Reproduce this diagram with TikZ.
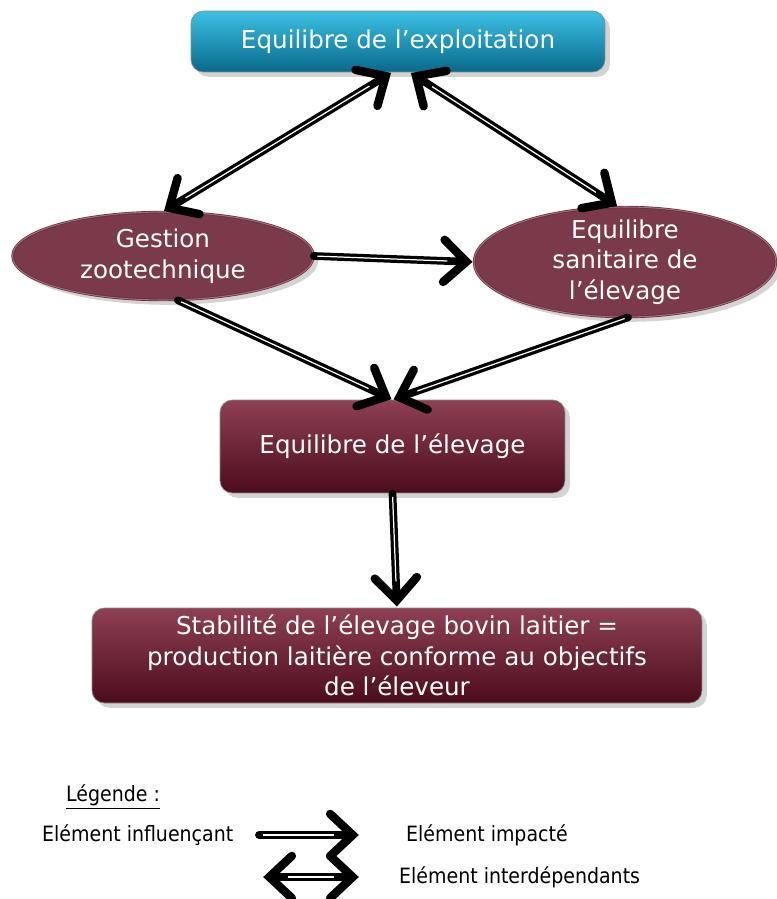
\documentclass[tikz,border=0pt]{standalone}
\usepackage{fontspec}
\setmainfont{DejaVu Sans}
\newfontfamily\legendfont{DejaVu Sans Condensed}
\usetikzlibrary{arrows.meta,shapes.geometric,shadows}
\definecolor{bleuhaut}{RGB}{60,192,228}
\definecolor{bleubas}{RGB}{8,106,138}
\definecolor{rougehaut}{RGB}{142,64,82}
\definecolor{rougebas}{RGB}{76,12,28}
\definecolor{ovalefond}{RGB}{123,58,74}
\definecolor{ovalebord}{RGB}{168,108,122}
\pgfdeclarearrow{
  name = Chevron,
  parameters = {\the\pgfarrowlength,\the\pgfarrowwidth,\the\pgfarrowlinewidth},
  setup code = {
    \pgfarrowssettipend{0pt}
    \pgfarrowssetlineend{-0.3\pgfarrowlength}
    \pgfarrowssavethe\pgfarrowlength
    \pgfarrowssavethe\pgfarrowwidth
    \pgfarrowssavethe\pgfarrowlinewidth
  },
  drawing code = {
    \pgfsetlinewidth{\pgfarrowlinewidth}
    \pgfsetroundcap
    \pgfsetmiterjoin
    \pgfpathmoveto{\pgfqpoint{-\pgfarrowlength}{.5\pgfarrowwidth}}
    \pgfpathlineto{\pgfqpoint{-0.87\pgfarrowlinewidth}{0pt}}
    \pgfpathlineto{\pgfqpoint{-\pgfarrowlength}{-.5\pgfarrowwidth}}
    \pgfusepathqstroke
  },
  defaults = {length=17pt, width=24pt, line width=4.8pt}
}
\tikzset{
  boite/.style={rounded corners=7pt, draw=black!45, line width=0.4pt, text=white,
    align=center, font=\fontsize{14}{17.5}\selectfont, drop shadow={opacity=0.35}},
  bleu/.style={boite, top color=bleuhaut, bottom color=bleubas},
  bordeaux/.style={boite, top color=rougehaut, bottom color=rougebas},
  ovale/.style={ellipse, inner sep=0pt, fill=ovalefond, draw=ovalefond!80!black,
    double=ovalebord, double distance=0.6pt, drop shadow={opacity=0.35}},
  texte/.style={text=white, align=center, font=\fontsize{14}{17.5}\selectfont},
  fleche/.style={line width=4.4pt, line cap=round, -Chevron,
    postaction={draw=white, line width=0.7pt, line cap=butt, -, shorten >=15pt, shorten <=2pt}},
  fleches/.style={line width=4.4pt, line cap=round, Chevron-Chevron,
    postaction={draw=white, line width=0.7pt, line cap=butt, -, shorten >=15pt, shorten <=15pt}},
  legende/.style={anchor=west, font=\legendfont\fontsize{12}{15}\selectfont}
}
\begin{document}
\begin{tikzpicture}[x=0.02cm, y=-0.02cm]
  \useasboundingbox (0,0) rectangle (777,899);

  \node[bleu, minimum width=8.28cm, minimum height=1.22cm] (expl) at (398,41.5) {Equilibre de l’exploitation};
  \node[ovale, minimum width=6.02cm, minimum height=1.76cm,
    label={[texte]center:Gestion\\zootechnique}] (zoo) at (163,256) {};
  \node[ovale, minimum width=6.04cm, minimum height=2.2cm,
    label={[texte]center:Equilibre\\sanitaire de\\l’élevage}] (sani) at (625,262) {};
  \node[bordeaux, minimum width=6.9cm, minimum height=1.86cm] (elev) at (392.5,446.5) {Equilibre de l’élevage};
  \node[bordeaux, minimum width=12.2cm, minimum height=1.9cm] (stab) at (397,655.5)
    {Stabilité de l’élevage bovin laitier =\\production laitière conforme au objectifs\\de l’éleveur};

  \draw[fleches] ([xshift=-0.12cm]expl.south) -- (zoo.north);
  \draw[fleches] ([xshift=0.24cm]expl.south) -- ([xshift=-0.14cm]sani.north);
  \draw[fleche] (zoo.east) -- (sani.west);
  \draw[fleche] ([xshift=0.3cm]zoo.south) -- (elev.north);
  \draw[fleche] ([xshift=0.06cm]sani.south) -- (elev.north);
  \draw[fleche] (elev.south) -- (stab.north);

  \node[legende] (leg) at (60,797) {\underline{Légende :}};
  \node[legende] (infl) at (36,835) {Elément influençant};
  \node[legende] (imp) at (400,835) {Elément impacté};
  \node[legende] (inter) at (393,877) {Elément interdépendants};
  \coordinate (a1) at (259,835);
  \coordinate (a2) at (360,835);
  \coordinate (b1) at (262,877);
  \coordinate (b2) at (360,877);
  \draw[fleche] (a1) -- (a2);
  \draw[fleches] (b1) -- (b2);
\end{tikzpicture}
\end{document}
